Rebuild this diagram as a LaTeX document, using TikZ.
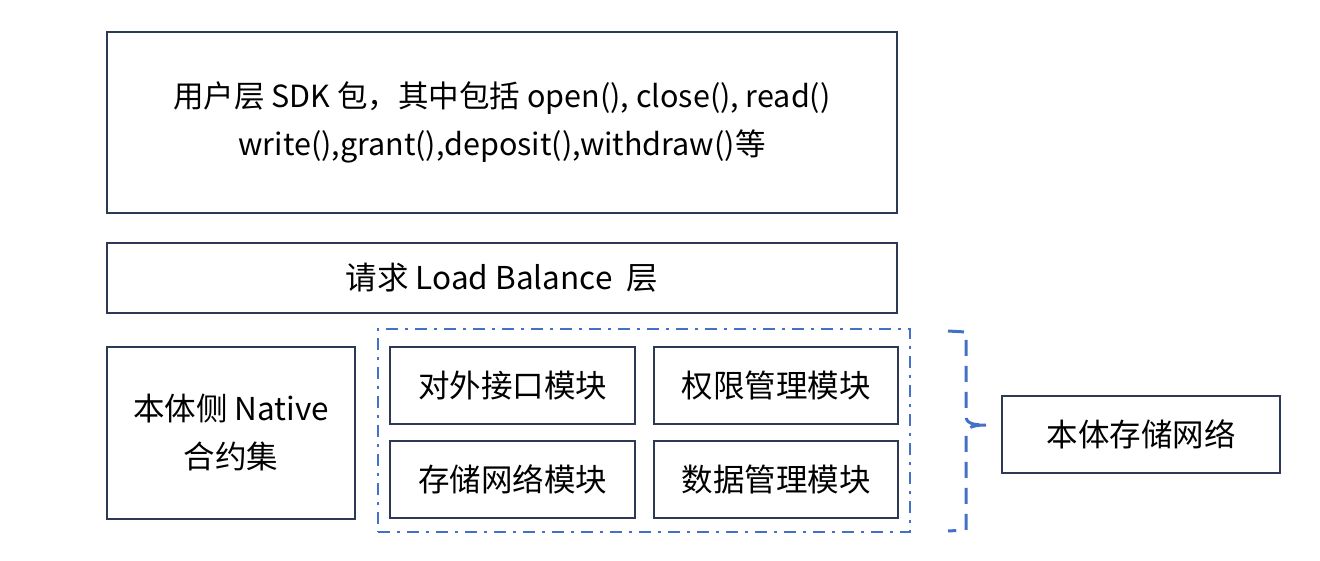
\documentclass[tikz,border=0pt]{standalone}
\usepackage{fontspec}
\setmainfont{Noto Sans CJK SC}
\begin{document}
\begin{tikzpicture}[x=1pt,y=-1pt,
  box/.style={draw=boxc,line width=2.6pt,fill=white,inner sep=0pt,font=\fontsize{31.5}{48}\selectfont,align=center},
  grp/.style={draw=bluec,line width=2.6pt,dash pattern=on 12pt off 7pt on 3pt off 7pt},
  bracec/.style={draw=bluec,line width=3pt,dash pattern=on 16pt off 10pt}]
\definecolor{boxc}{HTML}{2E3A55}
\definecolor{bluec}{HTML}{4470C8}
\useasboundingbox (0,0) rectangle (1320,560);
\node[box,minimum width=790pt,minimum height=181pt,font=\fontsize{30.5}{48}\selectfont] (sdk) at (502,122.5)
  {用户层 SDK 包，其中包括 open(), close(), read()\\write(),grant(),deposit(),withdraw()等};
\node[box,minimum width=790pt,minimum height=70pt] (lb) at (502,278) {请求 Load Balance\ \ 层};
\node[box,minimum width=248pt,minimum height=172pt] (nat) at (231,433) {本体侧 Native\\合约集};
\node[grp,minimum width=532pt,minimum height=203pt,inner sep=0pt] (grpb) at (644,430.5) {};
\node[box,minimum width=245pt,minimum height=77pt] (m1) at (512.5,385.5) {对外接口模块};
\node[box,minimum width=244pt,minimum height=77pt] (m2) at (776,385.5) {权限管理模块};
\node[box,minimum width=245pt,minimum height=77pt] (m3) at (512.5,479.5) {存储网络模块};
\node[box,minimum width=244pt,minimum height=77pt] (m4) at (776,479.5) {数据管理模块};
\node[box,minimum width=278pt,minimum height=77pt] (net) at (1141,434.5) {本体存储网络};
\coordinate (bt) at (948,331);
\coordinate (bb) at (948,531);
\coordinate (tip) at (986,425);
\draw[bracec] (bt) -- (966,332) -- (966,416) .. controls (966,423) and (972,425) .. (tip)
  (tip) .. controls (972,425) and (966,428) .. (966,434) -- (966,530) -- (bb);
\end{tikzpicture}
\end{document}
